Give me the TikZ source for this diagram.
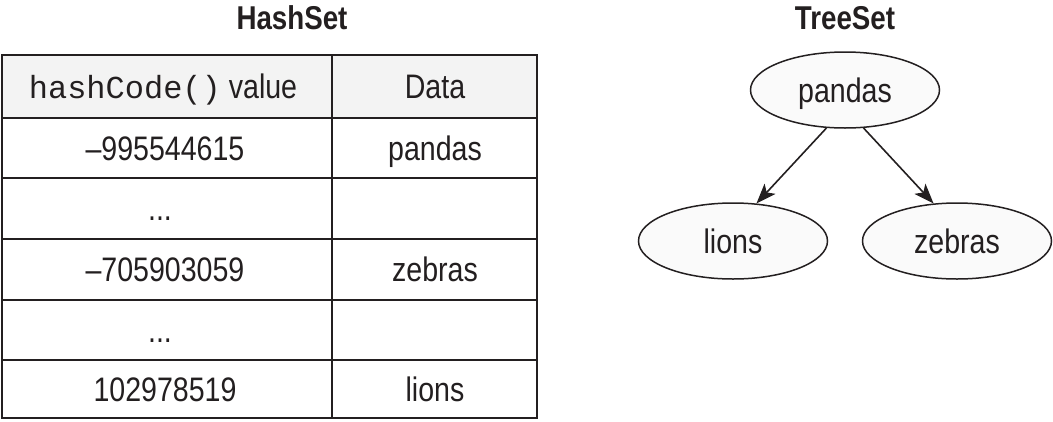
\documentclass[tikz,border=0pt]{standalone}
\usepackage{fontspec}
\setmainfont{Liberation Sans}[FakeStretch=0.84]
\newfontfamily\codefont{Liberation Mono}
\usetikzlibrary{shapes.geometric,arrows.meta}
\definecolor{ink}{HTML}{231F20}
\definecolor{headfill}{HTML}{F3F3F3}
\definecolor{ellfill}{HTML}{FAFAFA}
\begin{document}
\begin{tikzpicture}[x=1pt,y=-1pt,
  every node/.style={text=ink},
  cell/.style={font=\fontsize{34}{40}\selectfont, text height=24pt, text depth=0pt, inner sep=0pt},
  titletext/.style={font=\fontsize{33}{38}\selectfont\bfseries, text height=23pt, text depth=0pt, inner sep=0pt},
  elli/.style={ellipse, draw=ink, line width=1.5pt, fill=ellfill, inner sep=0pt,
    minimum width=189pt, minimum height=76pt,
    font=\fontsize{34}{40}\selectfont, text height=24pt, text depth=0pt},
  arr/.style={draw=ink, line width=1.6pt, -{Stealth[length=20pt,width=15pt,inset=5pt]}},
  grid/.style={draw=ink, line width=1.8pt},
  outer/.style={draw=ink, line width=2.4pt}
]
\useasboundingbox (0,0) rectangle (1053,421);
% titles
\node[titletext] (hashtitle) at (292,18) {HashSet};
\node[titletext] (treetitle) at (845,18) {TreeSet};
% table
\fill[white] (2,55) rectangle (537,418);
\fill[headfill] (2,55) rectangle (537,118);
\foreach \yy in {118,178,239,300,360} \draw[grid] (2,\yy) -- (537,\yy);
\draw[grid] (332,55) -- (332,418);
\draw[outer] (2,55) rectangle (537,418);
% header
\node[cell] (hcode) at (163,86.5) {{\codefont\fontsize{32}{38}\selectfont hashCode()} value};
\node[cell] (hdata) at (435,86.5) {Data};
% rows
\node[cell] (k1) at (165,148) {–995544615};
\node[cell] (v1) at (435,148) {pandas};
\node[cell] (k2) at (160,208.5) {...};
\node[cell] (k3) at (165,269.5) {–705903059};
\node[cell] (v3) at (435,269.5) {zebras};
\node[cell] (k4) at (160,330) {...};
\node[cell] (k5) at (165,389) {102978519};
\node[cell] (v5) at (435,389) {lions};
% tree
\node[elli] (pandas) at (845,90) {pandas};
\node[elli] (lions) at (733,241) {lions};
\node[elli] (zebras) at (957,241) {zebras};
\draw[arr] (pandas.244) -- (lions.58);
\draw[arr] (pandas.296) -- (zebras.122);
\end{tikzpicture}
\end{document}
